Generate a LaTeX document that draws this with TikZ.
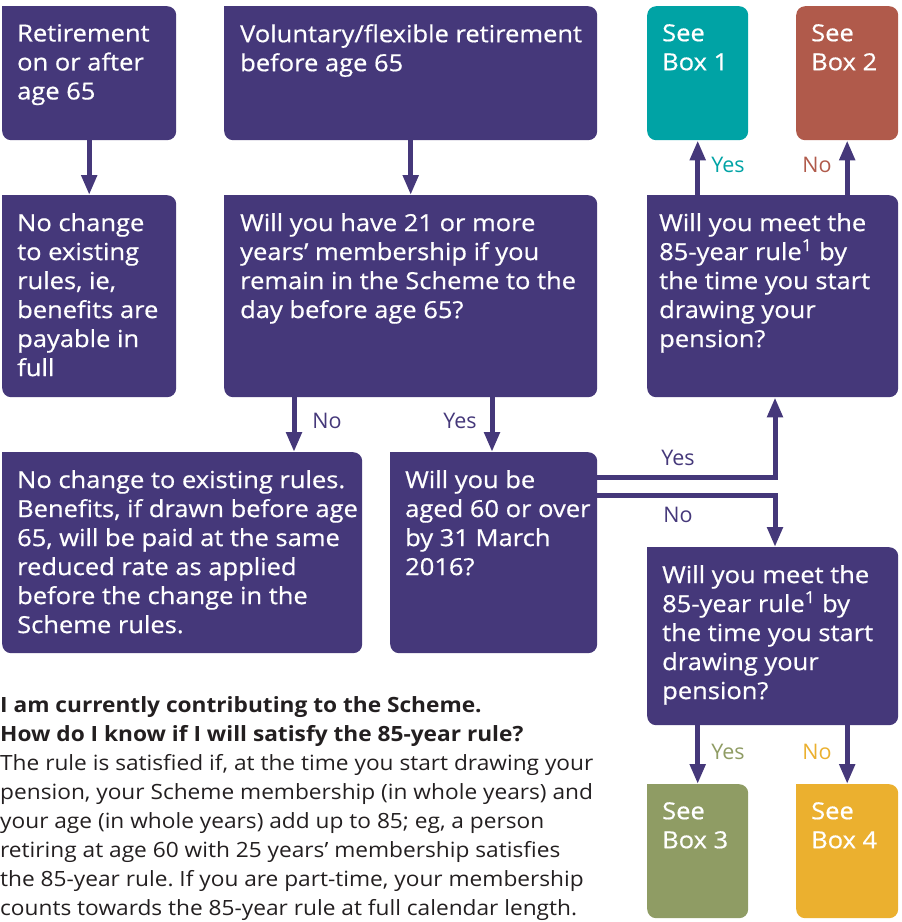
\documentclass[tikz,border=0pt]{standalone}
\usepackage{fontspec}
\setmainfont{Open Sans}[FakeStretch=1.08]
\newfontfamily\boxfont{Open Sans}[FakeStretch=1.085,FakeBold=0.6]
\newfontfamily\labfont{Open Sans}
\usetikzlibrary{arrows.meta,calc}
\frenchspacing
\definecolor{purp}{HTML}{45387A}
\definecolor{tealb}{HTML}{00A3A5}
\definecolor{brownb}{HTML}{B05A4B}
\definecolor{oliveb}{HTML}{8F9C64}
\definecolor{goldb}{HTML}{EBB02F}
\definecolor{bodytxt}{HTML}{231F20}
\tikzset{
  box/.style={fill=#1, rounded corners=9pt, inner sep=0pt, anchor=north west},
  btxt/.style={text=white, font=\boxfont\fontsize{23.5}{29}\selectfont, align=left, anchor=north west, inner sep=0pt},
  conn/.style={draw=purp, line width=5pt, -{Triangle[length=20pt,width=15pt]}},
  lab/.style={font=\labfont\fontsize{21.5}{26}\selectfont, text=#1, inner sep=0pt},
  lab/.default=purp
}
\begin{document}
\begin{tikzpicture}[x=1pt,y=-1pt]
\useasboundingbox (0,0) rectangle (902,922);
% boxes
\node[box=purp, minimum width=174pt, minimum height=134pt] (a) at (2,6) {};
\node[box=purp, minimum width=373pt, minimum height=134pt] (b) at (224,6) {};
\node[box=tealb, minimum width=101pt, minimum height=134pt] (c) at (647,6) {};
\node[box=brownb, minimum width=102pt, minimum height=134pt] (d) at (796,6) {};
\node[box=purp, minimum width=174pt, minimum height=202pt] (e) at (2,195) {};
\node[box=purp, minimum width=373pt, minimum height=202pt] (f) at (224,195) {};
\node[box=purp, minimum width=251pt, minimum height=202pt] (g) at (647,195) {};
\node[box=purp, minimum width=360pt, minimum height=201pt] (h) at (2,452) {};
\node[box=purp, minimum width=207pt, minimum height=201pt] (i) at (390,452) {};
\node[box=purp, minimum width=251pt, minimum height=178pt] (j) at (647,547) {};
\node[box=oliveb, minimum width=101pt, minimum height=134pt] (k) at (647,784) {};
\node[box=goldb, minimum width=102pt, minimum height=134pt] (l) at (796,784) {};
% square top-left corners
\foreach \n/\c in {a/purp,b/purp,e/purp,f/purp,g/purp,h/purp,i/purp,j/purp,k/oliveb,l/goldb}
  \fill[\c] (\n.north west) rectangle ++(10,10);
% texts
\node[btxt] (ta) at ($(a.north west)+(15,18)$) {Retirement\\on or after\\age 65};
\node[btxt] (tb) at ($(b.north west)+(16,18)$) {Voluntary/flexible retirement\\before age 65};
\node[btxt] (tc) at ($(c.north west)+(15,18)$) {See\\Box 1};
\node[btxt] (td) at ($(d.north west)+(15,18)$) {See\\Box 2};
\node[btxt] (te) at ($(e.north west)+(15,18)$) {No change\\to existing\\rules, ie,\\benefits are\\payable in\\full};
\node[btxt] (tf) at ($(f.north west)+(16,18)$) {Will you have 21 or more\\years’ membership if you\\remain in the Scheme to the\\day before age 65?};
\node[btxt] (tg) at ($(g.north west)+(12,18)$) {Will you meet the\\85-year rule\textsuperscript{1} by\\the time you start\\drawing your\\pension?};
\node[btxt] (th) at ($(h.north west)+(15,18)$) {No change to existing rules.\\Benefits, if drawn before age\\65, will be paid at the same\\reduced rate as applied\\before the change in the\\Scheme rules.};
\node[btxt] (ti) at ($(i.north west)+(15,18)$) {Will you be\\aged 60 or over\\by 31 March\\2016?};
\node[btxt] (tj) at ($(j.north west)+(15,18)$) {Will you meet the\\85-year rule\textsuperscript{1} by\\the time you start\\drawing your\\pension?};
\node[btxt] (tk) at ($(k.north west)+(15,18)$) {See\\Box 3};
\node[btxt] (tl) at ($(l.north west)+(15,18)$) {See\\Box 4};
% connectors
\draw[conn] (a.south) -- (e.north);
\draw[conn] (b.south) -- (f.north);
\draw[conn] (f.south west -| 294,0) -- (h.north west -| 294,0);
\draw[conn] (f.south west -| 492,0) -- (i.north west -| 492,0);
\draw[conn] (i.north east |- 0,477) -| (g.south -| 775,0);
\draw[conn] (i.north east |- 0,495) -| (j.north -| 775,0);
\draw[conn] (g.north -| c.south) -- (c.south);
\draw[conn] (g.north -| d.south) -- (d.south);
\draw[conn] (j.south -| k.north) -- (k.north);
\draw[conn] (j.south -| l.north) -- (l.north);
% labels
\node[lab] (l1) at (327,421) {No};
\node[lab] (l2) at (460,421) {Yes};
\node[lab] (l3) at (678,458) {Yes};
\node[lab] (l4) at (678,515) {No};
\node[lab=tealb] (l5) at (728,165) {Yes};
\node[lab=brownb] (l6) at (817,165) {No};
\node[lab=oliveb] (l7) at (728,752) {Yes};
\node[lab=goldb] (l8) at (817,752) {No};
% bottom text
\node[anchor=north west, inner sep=0pt, align=left, text=bodytxt, font=\fontsize{21}{29}\selectfont] (body) at (0,696)
{\textbf{I am currently contributing to the Scheme.}\\
\textbf{How do I know if I will satisfy the 85-year rule?}\\
The rule is satisfied if, at the time you start drawing your\\
pension, your Scheme membership (in whole years) and\\
your age (in whole years) add up to 85; eg, a person\\
retiring at age 60 with 25 years’ membership satisfies\\
the 85-year rule. If you are part-time, your membership\\
counts towards the 85-year rule at full calendar length.};
\end{tikzpicture}
\end{document}
